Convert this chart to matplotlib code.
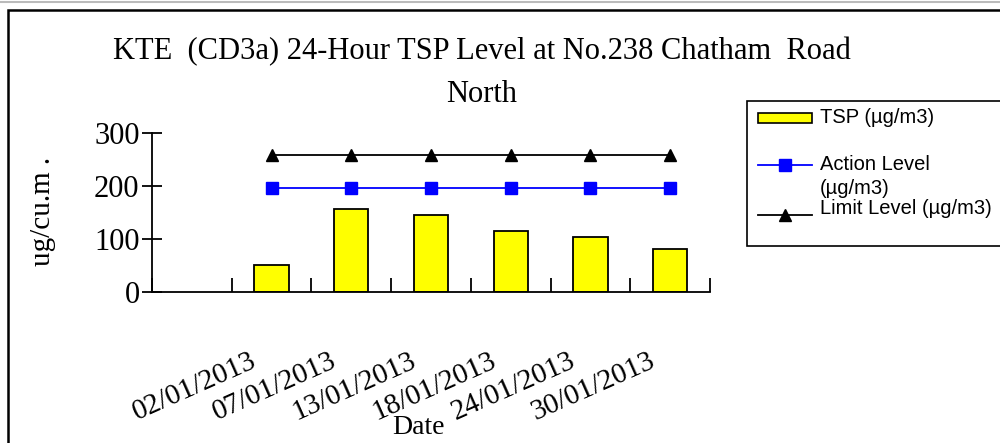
import matplotlib
matplotlib.use("Agg")
import matplotlib.pyplot as plt
from matplotlib.patches import Rectangle
from matplotlib.lines import Line2D

# data
dates = ['02/01/2013', '07/01/2013', '13/01/2013', '18/01/2013', '24/01/2013', '30/01/2013']
tsp = [50, 157, 145, 115, 104, 81]
action_level = [196, 196, 196, 196, 196, 196]
limit_level = [258, 258, 258, 258, 258, 258]

serif = 'Liberation Serif'
sans = 'Liberation Sans'

fig = plt.figure(figsize=(10, 4.43), dpi=100)
ax = fig.add_axes([0.152, 0.341, 0.558, 0.359])

# first category slot is empty, data sits in slots 1..6
xpos = [i + 1.5 for i in range(len(dates))]

ax.bar(xpos, tsp, width=0.43, color='#ffff00', edgecolor='black', linewidth=1.3, zorder=2)
ax.plot(xpos, action_level, color='blue', linewidth=1.3, marker='s', markersize=8,
        markerfacecolor='blue', markeredgecolor='blue', zorder=3)
ax.plot(xpos, limit_level, color='black', linewidth=1.3, marker='^', markersize=9,
        markerfacecolor='black', markeredgecolor='black', zorder=3)

ax.set_xlim(0, 7)
ax.set_ylim(0, 300)
ax.set_yticks([0, 100, 200, 300])
ax.set_yticklabels(['0', '100', '200', '300'], fontfamily=serif, fontsize=22)
ax.set_xticks(range(8))
ax.set_xticklabels([])
ax.tick_params(axis='y', direction='inout', length=14, width=1.3, pad=2)
ax.tick_params(axis='x', direction='in', length=10, width=1.3)
for s in ['top', 'right']:
    ax.spines[s].set_visible(False)
for s in ['left', 'bottom']:
    ax.spines[s].set_linewidth(1.3)

for x, lab in zip(xpos, dates):
    ax.text(x - 0.27, -0.35, lab, transform=ax.get_xaxis_transform(),
            rotation=24, rotation_mode='anchor', ha='right', va='top',
            fontfamily=serif, fontsize=21)

fig.text(0.418, 0.036, 'Date', ha='center', va='center', fontfamily=serif, fontsize=20)
fig.text(0.043, 1 - 211 / 443, 'ug/cu.m .', ha='center', va='center', rotation=90,
         fontfamily=serif, fontsize=21)

fig.text(0.482, 0.883, 'KTE  (CD3a) 24-Hour TSP Level at No.238 Chatham  Road',
         ha='center', va='center', fontfamily=serif, fontsize=22)
fig.text(0.482, 0.786, 'North', ha='center', va='center', fontfamily=serif, fontsize=22)

# outer chart frame
fig.add_artist(Rectangle((0.008, -0.05), 1.1, 0.05 + 1 - 10 / 443, transform=fig.transFigure,
                         fill=False, edgecolor='black', linewidth=1.8))
fig.add_artist(Line2D([0, 1], [1 - 2 / 443] * 2, transform=fig.transFigure,
                      color='#bbbbbb', linewidth=1.5))

# legend drawn by hand to match the wrapped label layout
fig.add_artist(Rectangle((0.747, 1 - 246 / 443), 0.3, (246 - 101) / 443, transform=fig.transFigure,
                         facecolor='white', edgecolor='black', linewidth=1.2))
fig.add_artist(Rectangle((0.758, 1 - 123 / 443), 0.054, 10 / 443, transform=fig.transFigure,
                         facecolor='#ffff00', edgecolor='black', linewidth=1.2))
fig.add_artist(Line2D([0.758, 0.785, 0.812], [1 - 165 / 443] * 3, transform=fig.transFigure,
                      color='blue', linewidth=1.3, marker='s', markersize=8, markevery=[1],
                      markerfacecolor='blue', markeredgecolor='blue'))
fig.add_artist(Line2D([0.758, 0.785, 0.812], [1 - 215 / 443] * 3, transform=fig.transFigure,
                      color='black', linewidth=1.3, marker='^', markersize=9, markevery=[1],
                      markerfacecolor='black'))
fig.text(0.820, 1 - 117 / 443, 'TSP (µg/m3)', ha='left', va='center', fontfamily=sans, fontsize=14.5)
fig.text(0.820, 1 - 164 / 443, 'Action Level', ha='left', va='center', fontfamily=sans, fontsize=14.5)
fig.text(0.820, 1 - 189 / 443, '(µg/m3)', ha='left', va='center', fontfamily=sans, fontsize=14.5)
fig.text(0.820, 1 - 209 / 443, 'Limit Level (µg/m3)', ha='left', va='center', fontfamily=sans, fontsize=14.5)

fig.savefig('out.png', dpi=100)
